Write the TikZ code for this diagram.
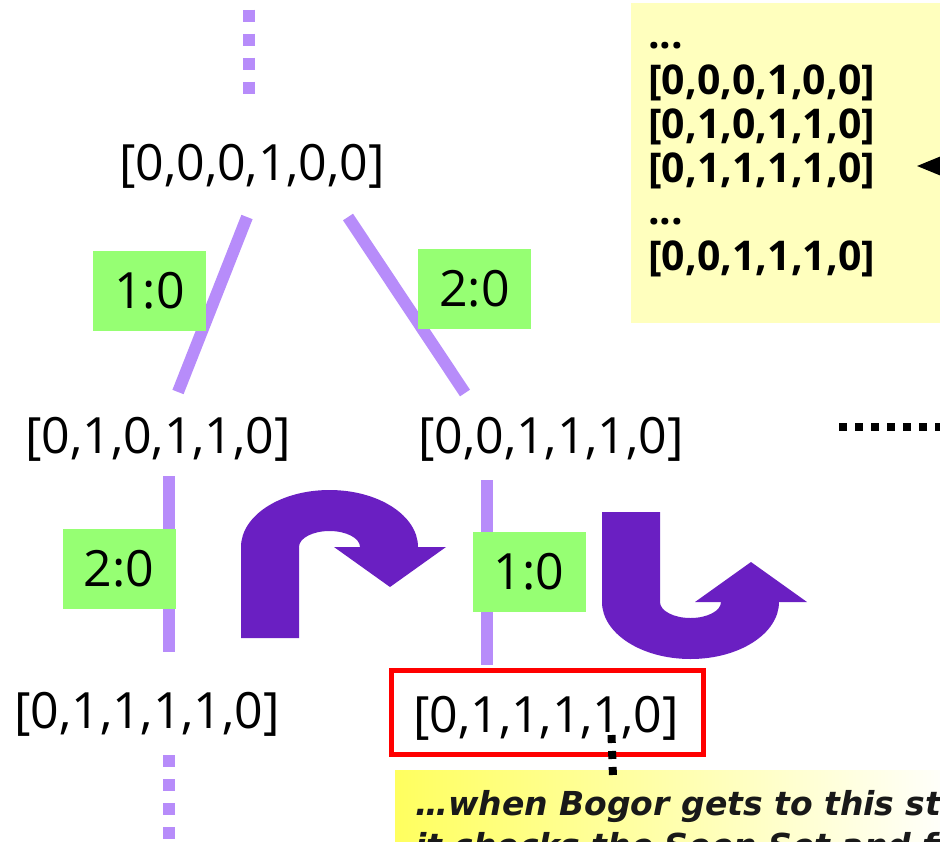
\documentclass[tikz,border=0pt]{standalone}
\usepackage{fontspec}
\setmainfont{Open Sans}
\newfontfamily\notefont{DejaVu Sans}
\usetikzlibrary{arrows.meta}

\definecolor{treeline}{RGB}{183,140,250}
\definecolor{labelgreen}{RGB}{150,255,115}
\definecolor{memo}{RGB}{255,255,190}
\definecolor{turnpurple}{RGB}{106,31,194}
\definecolor{notey}{RGB}{255,255,95}
\definecolor{hitred}{RGB}{255,0,0}

\begin{document}
\begin{tikzpicture}[x=1pt,y=-1pt,
  state/.style={font=\fontsize{50}{60}\selectfont, inner sep=0pt, anchor=base},
  tag/.style={fill=labelgreen, minimum width=113pt, minimum height=80pt,
    inner sep=0pt, font=\fontsize{50}{60}\selectfont},
  edge/.style={treeline, line width=12pt},
  trail/.style={treeline, line width=12pt, dash pattern=on 12pt off 12pt},
  blackdots/.style={black, line width=8pt, dash pattern=on 8pt off 8pt},
  seen/.style={font=\fontsize{41}{44}\selectfont\bfseries, inner sep=0pt, anchor=base west},
  note/.style={font=\notefont\fontsize{33}{40}\selectfont\bfseries\itshape,
    text=black!90, inner sep=0pt, anchor=base west},
  uturnshape/.style={fill=turnpurple},
]
\useasboundingbox (0,0) rectangle (940,841);
\clip (0,0) rectangle (940,841);

% seen-set memo (top right)
\fill[memo] (631,3) rectangle (980,323);
\node[seen] (m0) at (648,48)  {...};
\node[seen] (m1) at (648,94)  {[0,0,0,1,0,0]};
\node[seen] (m2) at (648,138) {[0,1,0,1,1,0]};
\node[seen] (m3) at (648,182) {[0,1,1,1,1,0]};
\node[seen] (m4) at (648,224) {...};
\node[seen] (m5) at (648,270) {[0,0,1,1,1,0]};
\coordinate (memoin)  at (1010,166);
\coordinate (memotip) at (917,166);
\draw[line width=3pt, -{Triangle[length=40pt,width=32pt]}] (memoin) -- (memotip);

% state tree
\node[state] (s0) at (252,180) {[0,0,0,1,0,0]};
\node[state] (s1) at (158,453) {[0,1,0,1,1,0]};
\node[state] (s2) at (551,453) {[0,0,1,1,1,0]};
\node[state] (s3) at (147,728) {[0,1,1,1,1,0]};
\node[draw=hitred, line width=5pt, minimum width=312pt, minimum height=84pt,
  inner sep=0pt] (hit) at (547.5,712.5) {};
\node[state] (s4) at (546,732) {[0,1,1,1,1,0]};

% transitions
\coordinate (e1a) at (247,217); \coordinate (e1b) at (178,392);
\coordinate (e2a) at (348,217); \coordinate (e2b) at (465,393);
\coordinate (e3a) at (169,476); \coordinate (e3b) at (169,652);
\coordinate (e4a) at (487,480); \coordinate (e4b) at (487,665);
\draw[edge] (e1a) -- (e1b);
\draw[edge] (e2a) -- (e2b);
\draw[edge] (e3a) -- (e3b);
\draw[edge] (e4a) -- (e4b);

% continuing paths
\coordinate (up0) at (249,-14.5); \coordinate (up1) at (249,93.5);
\draw[trail] (up0) -- (up1);
\coordinate (dn0) at (169,755); \coordinate (dn1) at (169,860);
\draw[trail] (dn0) -- (dn1);
\coordinate (rt0) at (839,427); \coordinate (rt1) at (960,427);
\draw[blackdots] (rt0) -- (rt1);

% transition labels
\node[tag] (t1) at (149.5,291) {1:0};
\node[tag] (t2) at (474.5,289) {2:0};
\node[tag] (t3) at (119,569)   {2:0};
\node[tag] (t4) at (529,572)   {1:0};

% backtrack / advance u-turns
\path[uturnshape] (241,638) -- (241,547)
  arc[start angle=180, end angle=0, x radius=88.5pt, y radius=57pt]
  -- (446,547) -- (390,587) -- (334,547) -- (360,547)
  arc[start angle=0, end angle=180, x radius=30.5pt, y radius=16pt]
  -- (299,638) -- cycle;
\path[uturnshape] (602,512) -- (602,602)
  arc[start angle=180, end angle=360, x radius=88.5pt, y radius=57pt]
  -- (807,602) -- (751,562) -- (695,602) -- (721,602)
  arc[start angle=360, end angle=180, x radius=30.5pt, y radius=16pt]
  -- (660,512) -- cycle;

% callout
\shade[left color=notey, right color=white] (395,770) rectangle (960,900);
\coordinate (callout) at (613,777);
\draw[blackdots] ([xshift=65.5pt]s4.base) ++(0,3) -- (callout);
\node[note] (n1) at (415,815) {…when Bogor gets to this state,};
\node[note] (n2) at (415,857) {it checks the Seen Set and finds};
\end{tikzpicture}
\end{document}
